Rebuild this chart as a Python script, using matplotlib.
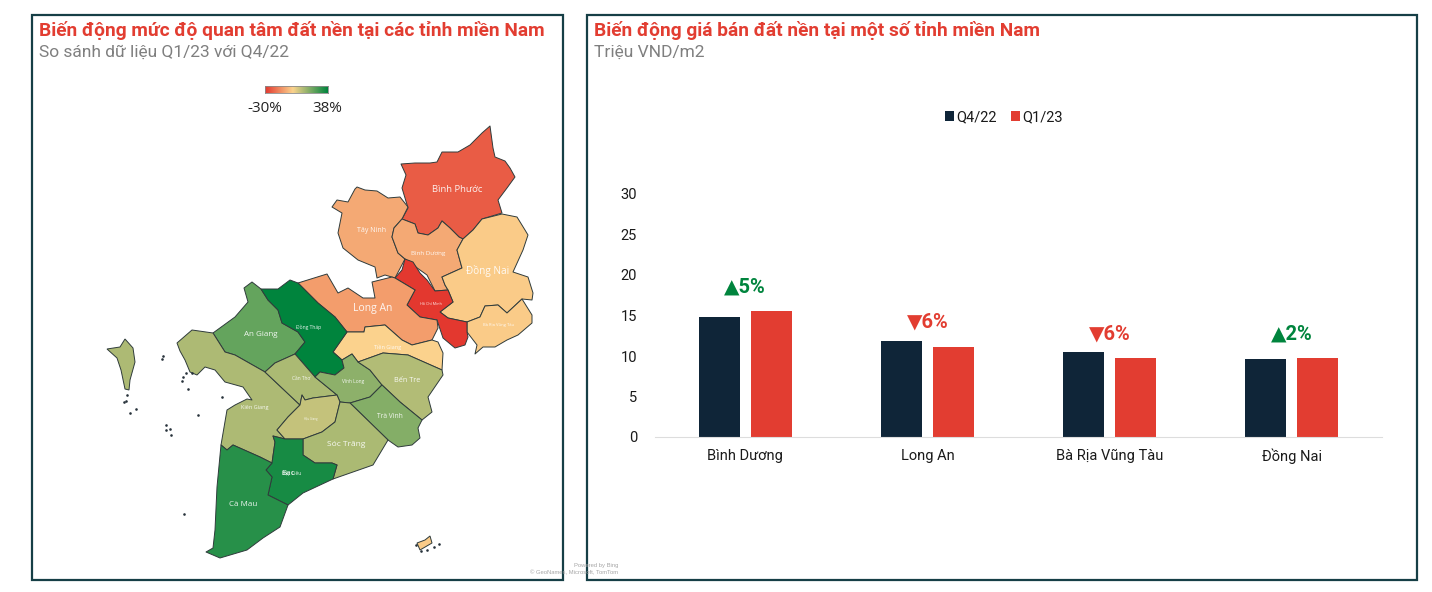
import numpy as np
import matplotlib
matplotlib.use('Agg')
import matplotlib.pyplot as plt
from matplotlib.colors import LinearSegmentedColormap, Normalize
from matplotlib.patches import Polygon, Rectangle

plt.rcParams['font.family'] = ['Roboto', 'DejaVu Sans']

# bar chart
cities = ['Bình Dương', 'Long An', 'Bà Rịa Vũng Tàu', 'Đồng Nai']
q4_22 = [14.8, 11.9, 10.5, 9.6]
q1_23 = [15.6, 11.1, 9.8, 9.8]
change_labels = ['▲5%', '▼6%', '▼6%', '▲2%']
change_up = [True, False, False, True]
label_levels = [18.5, 14.2, 12.7, 12.7]
y_ticks = [0, 5, 10, 15, 20, 25, 30]

# map: change in interest by province, percent
provinces = ['Bình Phước', 'Tây Ninh', 'Bình Dương', 'Đồng Nai', 'Bà Rịa Vũng Tàu',
             'Hồ Chí Minh', 'Long An', 'Tiền Giang', 'An Giang', 'Đồng Tháp',
             'Kiên Giang', 'Cần Thơ', 'Vĩnh Long', 'Bến Tre', 'Trà Vinh',
             'Hậu Giang', 'Sóc Trăng', 'Bạc Liêu', 'Cà Mau']
changes = [-23, -8, -8, -1.5, -1.5, -30, -10.6, 0, 22.6, 38,
           11.8, 12, 16.5, 11, 17.9, 8.5, 12, 34.5, 32]

# province outlines in image pixels
outlines = {
    'Bình Phước': [(490, 126), (493, 148), (495, 157), (505, 161), (510, 168), (515, 177), (507, 188), (498, 200),
                   (502, 213), (482, 219), (473, 230), (463, 239), (459, 237), (450, 228), (442, 221), (438, 228),
                   (428, 235), (418, 233), (415, 224), (402, 219), (408, 208), (402, 188), (406, 175), (401, 164),
                   (415, 163), (430, 163), (437, 162), (442, 152), (458, 152), (470, 145), (482, 133)],
    'Tây Ninh': [(357, 187), (365, 190), (377, 191), (388, 198), (400, 197), (408, 207), (402, 219), (394, 228),
                 (392, 237), (398, 253), (405, 259), (395, 278), (385, 275), (377, 278), (375, 267), (358, 260),
                 (343, 248), (338, 233), (342, 213), (332, 207), (337, 200), (348, 202), (355, 189)],
    'Bình Dương': [(402, 219), (415, 224), (418, 233), (428, 235), (438, 228), (442, 221), (450, 228), (459, 237),
                   (463, 239), (457, 250), (462, 268), (442, 277), (445, 285), (448, 290), (435, 291), (427, 275),
                   (413, 265), (405, 259), (398, 253), (392, 237), (394, 228)],
    'Đồng Nai': [(463, 239), (473, 230), (482, 219), (502, 214), (517, 217), (525, 230), (528, 235), (523, 250),
                 (513, 272), (528, 277), (533, 293), (532, 300), (522, 299), (507, 313), (498, 305), (485, 306),
                 (480, 317), (467, 322), (448, 318), (440, 312), (453, 302), (448, 290), (445, 285), (442, 277),
                 (462, 268), (457, 250)],
    'Bà Rịa Vũng Tàu': [(467, 322), (480, 317), (485, 306), (498, 305), (507, 313), (522, 299), (532, 315), (532, 323),
                        (518, 335), (507, 340), (495, 347), (483, 347), (475, 354), (477, 345), (467, 332)],
    'Hồ Chí Minh': [(405, 259), (413, 262), (420, 273), (427, 280), (435, 291), (448, 290), (453, 302), (440, 312),
                    (448, 318), (467, 322), (467, 332), (468, 337), (465, 345), (455, 348), (443, 338), (437, 320),
                    (420, 317), (407, 305), (415, 290), (395, 278), (402, 270)],
    'Long An': [(298, 283), (327, 274), (338, 293), (348, 288), (363, 298), (375, 298), (372, 282), (392, 277),
                (395, 278), (415, 290), (407, 305), (420, 317), (437, 320), (438, 328), (432, 340), (412, 345),
                (402, 340), (385, 325), (365, 327), (364, 332), (347, 332), (335, 317), (318, 303)],
    'Tiền Giang': [(347, 332), (364, 332), (365, 327), (385, 325), (402, 340), (412, 345), (432, 340), (438, 342),
                   (443, 353), (442, 370), (408, 355), (383, 353), (358, 362), (352, 354), (342, 360), (333, 352)],
    'An Giang': [(252, 282), (261, 289), (268, 300), (278, 310), (282, 323), (298, 332), (305, 342), (295, 354),
                 (275, 363), (265, 372), (235, 355), (225, 352), (213, 333), (235, 317), (248, 302), (244, 288)],
    'Đồng Tháp': [(261, 289), (278, 289), (290, 280), (298, 283), (318, 303), (335, 317), (347, 332), (333, 352),
                  (342, 360), (344, 368), (335, 375), (320, 372), (315, 377), (295, 354), (305, 342), (298, 332),
                  (282, 323), (278, 310), (268, 300)],
    'Kiên Giang': [(177, 343), (192, 330), (213, 333), (225, 352), (235, 355), (265, 372), (300, 405), (288, 417),
                   (277, 430), (285, 439), (273, 436), (275, 442), (272, 463), (260, 457), (233, 445), (227, 450),
                   (221, 445), (227, 410), (235, 405), (247, 399), (252, 400), (243, 387), (225, 382), (215, 370),
                   (205, 367), (197, 375), (190, 372), (185, 360), (180, 351)],
    'Cần Thơ': [(265, 372), (275, 363), (295, 354), (315, 377), (337, 395), (313, 398), (305, 400), (302, 395),
                (300, 405)],
    'Vĩnh Long': [(315, 377), (320, 372), (335, 375), (344, 368), (342, 360), (352, 354), (358, 362), (370, 370),
                  (382, 385), (370, 397), (350, 403), (340, 402), (337, 395)],
    'Bến Tre': [(358, 362), (383, 353), (408, 355), (442, 370), (443, 375), (428, 397), (432, 412), (422, 420),
                (400, 402), (382, 385), (370, 370)],
    'Trà Vinh': [(382, 385), (400, 402), (422, 420), (418, 428), (420, 438), (412, 445), (398, 447), (388, 440),
                 (350, 403), (370, 397)],
    'Hậu Giang': [(302, 395), (305, 400), (313, 398), (337, 395), (340, 402), (335, 422), (322, 432), (303, 439),
                  (285, 439), (277, 430), (288, 417), (300, 405)],
    'Sóc Trăng': [(340, 402), (350, 403), (388, 440), (373, 465), (333, 479), (337, 465), (332, 463), (315, 463),
                  (303, 455), (303, 439), (322, 432), (335, 422)],
    'Bạc Liêu': [(273, 436), (285, 439), (303, 439), (303, 455), (315, 463), (332, 463), (337, 465), (333, 479),
                 (303, 493), (288, 505), (268, 495), (272, 477), (266, 470), (272, 463), (275, 442)],
    'Cà Mau': [(221, 445), (227, 450), (233, 445), (260, 457), (272, 463), (266, 470), (272, 477), (268, 495),
               (288, 505), (280, 527), (263, 538), (247, 550), (220, 558), (206, 552), (213, 548), (215, 530),
               (217, 487)],
}
# islands belong to a province but carry no label
phu_quoc = [(125, 339), (133, 348), (135, 362), (130, 380), (129, 390), (125, 389), (121, 370), (117, 358),
            (107, 349), (120, 347)]
con_dao = [(430, 536), (432, 543), (420, 550), (417, 543), (425, 540)]
island_specks = [(163, 356), (162, 359), (186, 373), (183, 377), (182, 381), (188, 389), (222, 397), (198, 415),
                 (166, 425), (166, 430), (170, 429), (171, 435), (127, 395), (126, 401), (124, 402), (130, 413),
                 (136, 409), (192, 373), (184, 514), (439, 544), (416, 545), (421, 551), (427, 550), (434, 547)]

# label text: centre in pixels and font size
label_spots = {
    'Bình Phước': (457, 190, 6.8), 'Tây Ninh': (372, 231, 5), 'Bình Dương': (428, 253, 4.5),
    'Đồng Nai': (488, 271, 7.2), 'Bà Rịa Vũng Tàu': (499, 325, 3), 'Hồ Chí Minh': (431, 304, 2.7),
    'Long An': (373, 309, 7.5), 'Tiền Giang': (388, 347, 4), 'An Giang': (261, 334, 5.8),
    'Đồng Tháp': (309, 327, 3.6), 'Kiên Giang': (255, 407, 4), 'Cần Thơ': (301, 379, 3.5),
    'Vĩnh Long': (353, 382, 3.5), 'Bến Tre': (407, 380, 5.2), 'Trà Vinh': (390, 417, 4.8),
    'Hậu Giang': (311, 419, 2), 'Sóc Trăng': (346, 445, 6), 'Bạc Liêu': (292, 473, 3.6),
    'Cà Mau': (243, 504, 5.8),
}

red = '#E23D31'
green = '#00843D'
navy = '#0F2538'
frame = '#163F46'
gray = '#7F7F7F'
edge = '#2F3B3B'

interest_cmap = LinearSegmentedColormap.from_list(
    'interest', [(0, '#E3382F'), (30 / 68, '#FBD38D'), (1, green)])
norm = Normalize(-30, 38)

fig = plt.figure(figsize=(14.32, 5.92), dpi=100)

# whole figure layer in pixel coordinates for frames and the map
page = fig.add_axes([0, 0, 1, 1])
page.set_xlim(0, 1432)
page.set_ylim(592, 0)
page.axis('off')

page.add_patch(Rectangle((32, 15), 531, 565, fill=False, ec=frame, lw=1.6))
page.add_patch(Rectangle((587, 15), 830, 565, fill=False, ec=frame, lw=1.6))

page.text(39, 30, 'Biến động mức độ quan tâm đất nền tại các tỉnh miền Nam', color=red,
          fontsize=13.8, fontweight='bold', va='center')
page.text(39, 52, 'So sánh dữ liệu Q1/23 với Q4/22', color=gray, fontsize=12.5, va='center')
page.text(594, 30, 'Biến động giá bán đất nền tại một số tỉnh miền Nam', color=red,
          fontsize=13.8, fontweight='bold', va='center')
page.text(594, 52, 'Triệu VND/m2', color=gray, fontsize=12.5, va='center')

for name, value in zip(provinces, changes):
    page.add_patch(Polygon(outlines[name], closed=True, fc=interest_cmap(norm(value)),
                           ec=edge, lw=0.7, joinstyle='round'))
    x, y, size = label_spots[name]
    page.text(x, y, name, color='white', fontsize=size, ha='center', va='center',
              family=['Open Sans', 'DejaVu Sans'], alpha=0.9)

# the reference shows a second, bigger Bạc label on top of the small one
page.text(288, 473, 'Bạc', color='white', fontsize=5.8, ha='center', va='center',
          family=['Open Sans', 'DejaVu Sans'], alpha=0.9)

page.add_patch(Polygon(phu_quoc, closed=True, fc=interest_cmap(norm(changes[provinces.index('Kiên Giang')])),
                       ec=edge, lw=0.7))
page.add_patch(Polygon(con_dao, closed=True, fc=interest_cmap(norm(changes[provinces.index('Bà Rịa Vũng Tàu')])),
                       ec=edge, lw=0.7))
page.scatter([p[0] for p in island_specks], [p[1] for p in island_specks], s=3.5, c='#27323A', lw=0)

page.text(618, 566, 'Powered by Bing', color='#A6A6A6', fontsize=4.2, ha='right', va='center',
          family='Liberation Sans')
page.text(618, 573, '© GeoNames, Microsoft, TomTom', color='#A6A6A6', fontsize=4.2, ha='right', va='center',
          family='Liberation Sans')

# colour legend of the map
gradient = fig.add_axes([265 / 1432, 1 - 93 / 592, 63 / 1432, 7 / 592])
gradient.imshow(np.linspace(-30, 38, 128).reshape(1, -1), cmap=interest_cmap, norm=norm, aspect='auto')
gradient.set_xticks([])
gradient.set_yticks([])
for spine in gradient.spines.values():
    spine.set_color('#8A8A8A')
    spine.set_linewidth(0.6)
page.text(265, 108, '-30%', color='#222222', fontsize=11, ha='center', va='center',
          family=['Open Sans', 'DejaVu Sans'])
page.text(327, 108, '38%', color='#222222', fontsize=11, ha='center', va='center',
          family=['Open Sans', 'DejaVu Sans'])

# bar chart, axes placed so 0..30 covers the same pixels as the picture
axis = fig.add_axes([655 / 1432, 1 - 437 / 592, 727 / 1432, 243 / 592])
axis.patch.set_alpha(0)
positions = np.arange(len(cities))
bar_width = 41 / 182
offset = 26 / 182
axis.bar(positions - offset, q4_22, width=bar_width, color=navy, label='Q4/22')
axis.bar(positions + offset, q1_23, width=bar_width, color=red, label='Q1/23')

for i in range(len(cities)):
    axis.text(positions[i], label_levels[i], change_labels[i], ha='center', va='center',
              color=green if change_up[i] else red, fontsize=14.5, fontweight='bold')

axis.set_xlim(-0.495, len(cities) - 0.505)
axis.set_ylim(0, 30)
axis.set_yticks(y_ticks)
axis.set_xticks(positions)
axis.set_xticklabels(cities)
axis.tick_params(axis='both', length=0, labelsize=10.5, labelcolor='#1A1A1A')
axis.tick_params(axis='x', pad=8.5)
axis.tick_params(axis='y', pad=13)
for side in ['top', 'right', 'left']:
    axis.spines[side].set_visible(False)
axis.spines['bottom'].set_color('#DDDDDD')

axis.legend(loc='center', bbox_to_anchor=(1004 / 1432, 1 - 117 / 592), bbox_transform=fig.transFigure,
            ncol=2, frameon=False, fontsize=10.5, handlelength=0.65, handleheight=0.72,
            handletextpad=0.15, columnspacing=0.95, labelcolor='#1A1A1A')

plt.savefig('out.png', dpi=100)
